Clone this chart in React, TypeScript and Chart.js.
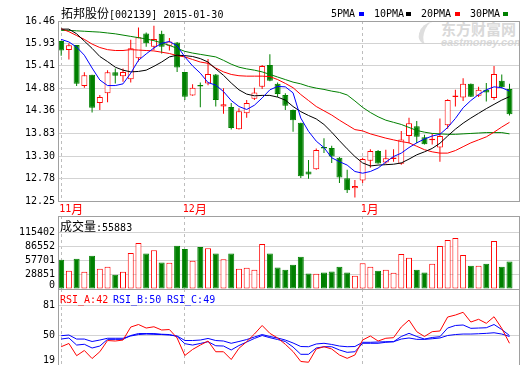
import React, { useEffect, useRef } from "react";
import { Chart, registerables } from "chart.js";

Chart.register(...registerables);

// ---------- data ----------
const monthIdx = [0, 16, 39];
const monthLabels = ["11月", "12月", "1月"];

const open = [15.99, 15.78, 15.90, 14.94, 15.20, 14.54, 14.77, 15.26, 15.17, 15.10,
  15.59, 16.17, 15.86, 16.16, 15.88, 15.96, 15.27, 14.72, 14.95, 15.00,
  15.21, 14.46, 14.45, 13.93, 14.30, 14.64, 14.92, 15.43, 14.99, 14.73,
  14.38, 14.08, 12.94, 12.99, 13.49, 13.49, 13.26, 12.78, 12.55, 12.73,
  13.19, 13.42, 13.15, 13.23, 13.12, 13.77, 14.00, 13.74, 13.67, 13.50,
  14.02, 14.68, 14.67, 14.99, 14.71, 14.85, 14.66, 15.06, 14.87];
const high = [16.00, 15.94, 15.90, 15.26, 15.20, 14.73, 15.31, 15.35, 15.35, 16.02,
  16.31, 16.19, 16.35, 16.23, 16.06, 15.97, 15.27, 14.98, 15.02, 15.57,
  15.22, 14.89, 14.54, 14.42, 14.61, 14.90, 15.43, 15.68, 15.02, 14.77,
  14.39, 14.08, 13.21, 13.48, 13.72, 13.54, 13.28, 12.98, 12.74, 13.26,
  13.46, 13.44, 13.45, 13.46, 13.89, 14.20, 14.12, 13.80, 13.83, 14.18,
  14.63, 14.85, 15.12, 15.00, 14.92, 15.01, 15.41, 15.21, 14.99];
const low = [15.65, 15.56, 14.94, 14.90, 14.32, 14.38, 14.56, 15.00, 15.04, 15.02,
  15.51, 15.86, 15.78, 15.70, 15.77, 15.27, 14.61, 14.71, 14.44, 14.96,
  14.46, 14.29, 13.92, 13.92, 14.20, 14.61, 14.87, 15.05, 14.68, 14.38,
  13.87, 12.79, 12.77, 12.98, 13.37, 13.14, 12.67, 12.44, 12.33, 12.67,
  13.03, 13.12, 13.12, 13.17, 13.10, 13.60, 13.60, 13.57, 13.57, 13.17,
  13.94, 14.46, 14.59, 14.68, 14.68, 14.58, 14.61, 14.89, 14.25];
const close = [15.77, 15.89, 14.99, 15.19, 14.43, 14.68, 15.26, 15.18, 15.27, 15.82,
  16.08, 15.94, 16.04, 15.86, 15.98, 15.37, 14.69, 14.90, 14.93, 15.22,
  14.61, 14.51, 13.96, 14.35, 14.54, 14.79, 15.41, 15.06, 14.75, 14.48,
  14.14, 12.83, 12.87, 13.44, 13.48, 13.29, 12.80, 12.50, 12.60, 13.23,
  13.42, 13.13, 13.25, 13.26, 13.69, 14.07, 13.75, 13.58, 13.70, 13.77,
  14.61, 14.71, 14.99, 14.69, 14.85, 14.79, 15.22, 14.91, 14.28];

const ma5 = [16.03, 15.97, 15.85, 15.66, 15.36, 15.08, 14.95, 14.95, 14.99, 15.24,
  15.54, 15.69, 15.83, 15.94, 15.98, 15.88, 15.62, 15.41, 15.24, 15.02,
  14.96, 14.81, 14.60, 14.46, 14.39, 14.49, 14.66, 14.85, 14.93, 14.92,
  14.78, 14.19, 13.88, 13.65, 13.50, 13.26, 13.17, 13.09, 12.94, 12.90,
  12.94, 13.02, 13.16, 13.29, 13.37, 13.50, 13.61, 13.70, 13.77, 13.81,
  13.97, 14.18, 14.43, 14.60, 14.74, 14.85, 14.92, 14.90, 14.82];
const ma10 = [16.27, 16.27, 16.16, 15.99, 15.82, 15.63, 15.51, 15.38, 15.31, 15.27,
  15.28, 15.31, 15.40, 15.50, 15.62, 15.66, 15.65, 15.63, 15.58, 15.50,
  15.34, 15.19, 15.01, 14.85, 14.75, 14.71, 14.72, 14.72, 14.68, 14.61,
  14.46, 14.34, 14.25, 14.17, 14.04, 13.86, 13.66, 13.47, 13.29, 13.14,
  13.07, 13.09, 13.10, 13.11, 13.14, 13.23, 13.33, 13.40, 13.48, 13.60,
  13.77, 13.93, 14.07, 14.19, 14.30, 14.41, 14.51, 14.61, 14.69];
const ma20 = [16.28, 16.21, 16.12, 16.03, 15.92, 15.84, 15.79, 15.77, 15.77, 15.79,
  15.78, 15.77, 15.76, 15.73, 15.70, 15.65, 15.62, 15.56, 15.50, 15.47,
  15.36, 15.27, 15.21, 15.18, 15.17, 15.17, 15.17, 15.16, 15.09, 15.00,
  14.90, 14.74, 14.60, 14.46, 14.36, 14.26, 14.14, 14.03, 13.92, 13.89,
  13.82, 13.77, 13.72, 13.68, 13.64, 13.61, 13.53, 13.45, 13.40, 13.37,
  13.37, 13.43, 13.52, 13.61, 13.68, 13.75, 13.86, 13.98, 14.09];
const ma30 = [16.24, 16.24, 16.23, 16.22, 16.21, 16.20, 16.18, 16.16, 16.13, 16.10,
  16.07, 16.04, 16.00, 15.95, 15.89, 15.82, 15.75, 15.71, 15.68, 15.65,
  15.62, 15.54, 15.45, 15.38, 15.34, 15.31, 15.27, 15.21, 15.15, 15.09,
  15.03, 14.99, 14.93, 14.89, 14.86, 14.82, 14.79, 14.73, 14.59, 14.44,
  14.32, 14.22, 14.14, 14.09, 14.04, 13.97, 13.90, 13.86, 13.83, 13.82,
  13.81, 13.81, 13.82, 13.83, 13.84, 13.85, 13.85, 13.85, 13.82];

const volume = [59010, 36860, 61020, 34840, 67070, 40880, 44910, 28800, 34840, 73110,
  93250, 71700, 78550, 53570, 52970, 87810, 81160, 57000, 85190, 82570,
  71700, 60420, 71700, 40880, 42900, 38870, 91230, 71700, 43500, 38870,
  48940, 65050, 31420, 30810, 33430, 35450, 44910, 33430, 26790, 52360,
  44910, 36860, 38870, 32830, 71090, 63040, 38870, 33430, 50950, 87210,
  99290, 103320, 69080, 46930, 46930, 50950, 97280, 44910, 55883];

const rsiA = [38.6, 41.9, 29.5, 34.8, 26.6, 33.5, 44.9, 44.4, 45.4, 58.6,
  61.2, 57.6, 58.9, 55.6, 56.1, 47.5, 29.7, 35.8, 40.3, 44.4,
  33.5, 33.5, 25.6, 37.0, 43.7, 51.5, 60.2, 52.2, 47.5, 41.1,
  33.7, 23.6, 22.8, 36.3, 38.6, 36.3, 30.2, 26.8, 30.2, 45.4,
  49.5, 44.4, 47.2, 47.8, 58.6, 65.7, 53.9, 49.0, 53.9, 54.6,
  68.8, 70.8, 73.6, 63.7, 66.5, 62.4, 69.1, 57.3, 42.1];
const rsiB = [46.4, 47.5, 40.3, 41.1, 37.3, 39.3, 46.1, 46.1, 46.1, 50.0,
  52.0, 52.0, 52.0, 51.3, 51.0, 49.0, 41.7, 40.3, 41.9, 43.7,
  39.6, 39.3, 35.3, 39.8, 43.4, 47.0, 50.0, 47.8, 45.9, 43.9,
  38.3, 30.9, 30.9, 37.3, 38.6, 38.6, 35.3, 32.9, 33.5, 42.1,
  42.1, 42.1, 43.1, 43.7, 49.0, 52.2, 49.0, 46.4, 48.0, 48.8,
  57.6, 60.2, 60.7, 57.3, 57.6, 57.9, 61.2, 56.1, 50.0];
const rsiC = [49.8, 50.5, 46.4, 46.4, 43.9, 45.4, 47.2, 47.2, 47.2, 49.5,
  51.0, 51.5, 51.2, 51.0, 50.5, 49.5, 44.9, 44.9, 45.4, 47.0,
  44.9, 44.4, 42.1, 43.9, 45.9, 48.5, 51.0, 49.0, 47.5, 45.4,
  42.4, 38.8, 38.6, 41.4, 42.1, 40.9, 39.3, 38.6, 38.8, 43.1,
  43.1, 43.4, 43.7, 43.7, 46.4, 47.5, 46.1, 46.1, 46.7, 47.5,
  50.0, 51.0, 51.5, 51.5, 51.8, 52.2, 52.8, 51.5, 49.0];

const priceTicks = [12.25, 12.78, 13.30, 13.83, 14.36, 14.88, 15.41, 15.93, 16.46];
const volumeTicks = [0, 28851, 57701, 86552, 115402];
const rsiTicks = [19, 50, 81];

// ---------- styling ----------
const RED = "#ff0000";
const GREEN = "#008000";
const BLUE = "#0000ff";
const BOX = "#a0a0a0";
const GRID = "#d3d3d3";
const DASH = "#bdbdbd";
const FONT_MONO = '"DejaVu Sans Mono", monospace';
const FONT_CJK = '"Noto Sans CJK SC", sans-serif';
const X_MIN = -0.41;
const X_MAX = 59.23;
const VOL_AXIS_MAX = 147800;
const RSI_AXIS_MAX = 97.3;

const idx = close.map((_, i) => i);
const isUp = (i: number) => close[i] >= open[i];

function xScale() {
  return {
    type: "linear",
    min: X_MIN,
    max: X_MAX,
    offset: false,
    bounds: "data",
    grid: { color: DASH, drawTicks: false, offset: false, lineWidth: 1 },
    border: { display: false, dash: [3, 3] },
    ticks: { display: false },
    afterBuildTicks: (s: any) => {
      s.ticks = monthIdx.map((v) => ({ value: v }));
    },
    afterFit: (s: any) => {
      s.height = 0;
    },
  };
}

function yScale(min: number, max: number, ticks: number[]) {
  return {
    type: "linear",
    min,
    max,
    bounds: "data",
    beginAtZero: false,
    grid: { color: GRID, drawTicks: false, lineWidth: 1 },
    border: { display: false },
    ticks: { display: false },
    afterBuildTicks: (s: any) => {
      s.ticks = ticks.map((v) => ({ value: v }));
    },
    afterFit: (s: any) => {
      s.width = 58;
    },
  };
}

function decor(o: { ticks: number[]; fmt: (v: number) => string; maxLabelY: number; months?: boolean }) {
  return {
    id: "decor",
    afterDraw(chart: any) {
      const { ctx, chartArea: a, scales } = chart;
      const ys = scales.y;
      const xs = scales.x;
      ctx.save();
      ctx.setLineDash([]);
      ctx.strokeStyle = BOX;
      ctx.lineWidth = 1;
      ctx.strokeRect(a.left + 0.5, a.top + 0.5, a.right - a.left, a.bottom - a.top);
      ctx.fillStyle = "#000";
      ctx.font = `10px ${FONT_MONO}`;
      ctx.textAlign = "right";
      ctx.textBaseline = "middle";
      for (const t of o.ticks) {
        const py = Math.min(ys.getPixelForValue(t), o.maxLabelY);
        ctx.fillText(o.fmt(t), a.left - 3, py);
      }
      if (o.months) {
        ctx.textAlign = "left";
        ctx.fillStyle = RED;
        monthIdx.forEach((m, k) => {
          const label = monthLabels[k];
          const num = label.slice(0, -1);
          const unit = label.slice(-1);
          const px = xs.getPixelForValue(m) - 2;
          const py = a.bottom + 8;
          ctx.font = `10px ${FONT_MONO}`;
          ctx.fillText(num, px, py);
          const w = ctx.measureText(num).width;
          ctx.font = `12px ${FONT_CJK}`;
          ctx.fillText(unit, px + w, py);
        });
      }
      ctx.restore();
    },
  };
}

const baseOptions = (padding: any) => ({
  responsive: false,
  animation: false,
  events: [],
  devicePixelRatio: 1,
  layout: { padding },
  plugins: { legend: { display: false }, tooltip: { enabled: false }, title: { display: false } },
});

function lineDs(data: number[], color: string, order = 0) {
  return {
    type: "line",
    data: idx.map((i) => ({ x: i, y: data[i] })),
    borderColor: color,
    borderWidth: 1,
    pointRadius: 0,
    tension: 0,
    fill: false,
    order,
  };
}

function priceConfig(): any {
  return {
    type: "bar",
    data: {
      datasets: [
        lineDs(ma5, BLUE),
        lineDs(ma10, "#000000"),
        lineDs(ma20, RED),
        lineDs(ma30, GREEN),
        {
          type: "bar",
          order: 1,
          data: idx.map((i) => ({ x: i, y: [open[i], close[i]] })),
          backgroundColor: idx.map((i) => (isUp(i) ? "#ffffff" : GREEN)),
          borderColor: idx.map((i) => (isUp(i) ? RED : GREEN)),
          borderWidth: 1,
          borderSkipped: false,
          barThickness: 6,
          grouped: false,
          minBarLength: 1.5,
          inflateAmount: 0,
        },
        {
          type: "bar",
          order: 2,
          data: idx.map((i) => ({ x: i, y: [low[i], high[i]] })),
          backgroundColor: idx.map((i) => (isUp(i) ? RED : GREEN)),
          borderWidth: 0,
          barThickness: 1,
          grouped: false,
          inflateAmount: 0,
        },
      ],
    },
    options: {
      ...baseOptions({ top: 21, left: 0, right: 1, bottom: 15 }),
      scales: { x: xScale(), y: yScale(priceTicks[0], priceTicks[priceTicks.length - 1], priceTicks) },
    },
    plugins: [decor({ ticks: priceTicks, fmt: (v) => v.toFixed(2), maxLabelY: 201, months: true })],
  };
}

function volumeConfig(): any {
  return {
    type: "bar",
    data: {
      datasets: [
        {
          type: "bar",
          data: idx.map((i) => ({ x: i, y: volume[i] })),
          backgroundColor: idx.map((i) => (isUp(i) ? "#ffffff" : GREEN)),
          borderColor: idx.map((i) => (isUp(i) ? RED : GREEN)),
          borderWidth: 1,
          borderSkipped: false,
          barThickness: 6,
          grouped: false,
          inflateAmount: 0,
        },
      ],
    },
    options: {
      ...baseOptions({ top: 0, left: 0, right: 1, bottom: 1 }),
      scales: { x: xScale(), y: yScale(0, VOL_AXIS_MAX, volumeTicks) },
    },
    plugins: [decor({ ticks: volumeTicks, fmt: (v) => String(v), maxLabelY: 69.5 })],
  };
}

function rsiConfig(): any {
  return {
    type: "line",
    data: {
      datasets: [lineDs(rsiA, RED), lineDs(rsiB, BLUE), lineDs(rsiC, BLUE)],
    },
    options: {
      ...baseOptions({ top: 0, left: 0, right: 1, bottom: 0 }),
      scales: { x: xScale(), y: yScale(rsiTicks[0], RSI_AXIS_MAX, rsiTicks) },
    },
    plugins: [decor({ ticks: rsiTicks, fmt: (v) => String(v), maxLabelY: 71 })],
  };
}

const mono: React.CSSProperties = { fontFamily: FONT_MONO, fontSize: 10 };
const cjk: React.CSSProperties = { fontFamily: FONT_CJK, fontSize: 12 };
const abs = (left: number, top: number, extra: React.CSSProperties = {}): React.CSSProperties => ({
  position: "absolute",
  left,
  top,
  lineHeight: "12px",
  whiteSpace: "nowrap",
  ...extra,
});

export default function App() {
  const priceRef = useRef<HTMLCanvasElement>(null);
  const volRef = useRef<HTMLCanvasElement>(null);
  const rsiRef = useRef<HTMLCanvasElement>(null);

  useEffect(() => {
    const charts = [
      new Chart(priceRef.current as HTMLCanvasElement, priceConfig()),
      new Chart(volRef.current as HTMLCanvasElement, volumeConfig()),
      new Chart(rsiRef.current as HTMLCanvasElement, rsiConfig()),
    ];
    return () => charts.forEach((c) => c.destroy());
  }, []);

  const legend = [
    { label: "5PMA", color: BLUE, x: 331, sq: 359 },
    { label: "10PMA", color: "#000000", x: 374, sq: 406 },
    { label: "20PMA", color: RED, x: 421, sq: 455 },
    { label: "30PMA", color: GREEN, x: 470, sq: 503 },
  ];

  return (
    <div style={{ position: "absolute", left: 0, top: 0, width: 520, height: 365, overflow: "hidden", background: "#fff" }}>
      {/* watermark */}
      <div style={abs(441, 21, { fontFamily: FONT_CJK, fontSize: 15, fontWeight: 700, color: "#d9d9d9", lineHeight: "16px" })}>东方财富网</div>
      <div style={abs(441, 36, { fontFamily: '"Liberation Sans", sans-serif', fontSize: 11, fontWeight: 700, fontStyle: "italic", color: "#d9d9d9" })}>eastmoney.com</div>
      <div style={{ position: "absolute", left: 419, top: 22, width: 16, height: 22, borderLeft: "5px solid #dedede", borderRadius: "60% 0 0 60%", transform: "skewX(-15deg)" }} />

      <canvas ref={priceRef} width={520} height={216} style={{ position: "absolute", left: 0, top: 0, width: 520, height: 216 }} />
      <canvas ref={volRef} width={520} height={74} style={{ position: "absolute", left: 0, top: 216, width: 520, height: 74 }} />
      <canvas ref={rsiRef} width={520} height={77} style={{ position: "absolute", left: 0, top: 289, width: 520, height: 77 }} />

      {/* title */}
      <div style={abs(61, 7, { color: "#000" })}>
        <span style={cjk}>拓邦股份</span>
        <span style={mono}>[002139] 2015-01-30</span>
      </div>
      {legend.map((l) => (
        <React.Fragment key={l.label}>
          <div style={abs(l.x, 8, { ...mono, color: "#000" })}>{l.label}</div>
          <div style={{ position: "absolute", left: l.sq, top: 12, width: 5, height: 4, background: l.color }} />
        </React.Fragment>
      ))}

      {/* volume title */}
      <div style={abs(60, 220, { color: "#000" })}>
        <span style={cjk}>成交量</span>
        <span style={mono}>:{volume[volume.length - 1]}</span>
      </div>

      {/* RSI title */}
      <div style={abs(60, 294, { ...mono, color: RED })}>RSI_A:{Math.round(rsiA[rsiA.length - 1])}</div>
      <div style={abs(113, 294, { ...mono, color: BLUE })}>RSI_B:{Math.round(rsiB[rsiB.length - 1])}</div>
      <div style={abs(167, 294, { ...mono, color: BLUE })}>RSI_C:{Math.round(rsiC[rsiC.length - 1])}</div>
    </div>
  );
}
